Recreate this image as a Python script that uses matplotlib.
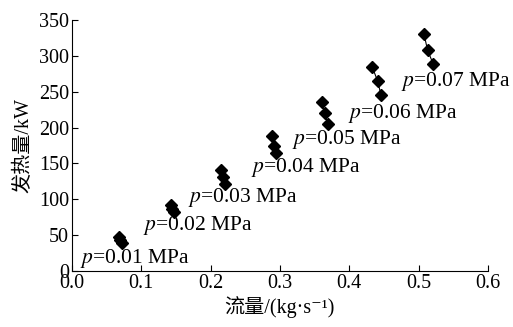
import matplotlib
matplotlib.use('Agg')
import matplotlib.pyplot as plt

plt.rcParams['font.family'] = ['Liberation Serif', 'Noto Sans CJK SC', 'DejaVu Sans']
plt.rcParams['mathtext.fontset'] = 'stix'

# data
pressures = ['0.01', '0.02', '0.03', '0.04', '0.05', '0.06', '0.07']
flow = [
    [0.068, 0.070, 0.072],
    [0.143, 0.145, 0.148],
    [0.215, 0.218, 0.221],
    [0.289, 0.292, 0.295],
    [0.361, 0.365, 0.369],
    [0.433, 0.441, 0.446],
    [0.508, 0.513, 0.521],
]
heat = [
    [47, 43, 39],
    [92, 87, 82],
    [141, 131, 122],
    [188, 175, 165],
    [235, 220, 205],
    [285, 265, 245],
    [330, 308, 289],
]
label_x = [0.012, 0.102, 0.167, 0.259, 0.317, 0.399, 0.475]
label_y = [17, 63, 103, 144, 183, 220, 264]

fig = plt.figure(figsize=(5.13, 3.27), dpi=100)
ax = fig.add_axes([0.140, 0.171, 0.811, 0.768])

for p, xs, ys, lx, ly in zip(pressures, flow, heat, label_x, label_y):
    ax.plot(xs, ys, color='black', lw=0.8, marker='D', ms=6,
            markerfacecolor='black', markeredgecolor='black')
    ax.text(lx, ly, '$p$=' + p + ' MPa', fontsize=15.5, ha='left', va='center')

ax.set_xlim(0, 0.6)
ax.set_ylim(0, 350)
ax.set_xticks([0.0, 0.1, 0.2, 0.3, 0.4, 0.5, 0.6])
ax.set_xticklabels(['0.0', '0.1', '0.2', '0.3', '0.4', '0.5', '0.6'])
ax.set_yticks(range(0, 351, 50))
ax.tick_params(direction='in', labelsize=14.5, length=4, width=0.8, pad=2)
ax.spines['top'].set_visible(False)
ax.spines['right'].set_visible(False)
ax.set_xlabel('流量/(kg·s\u207b\u00b9)', fontsize=14.5, labelpad=2)
ax.set_ylabel('发热量/kW', fontsize=14.5, labelpad=4)

fig.savefig('out.png', dpi=100)
